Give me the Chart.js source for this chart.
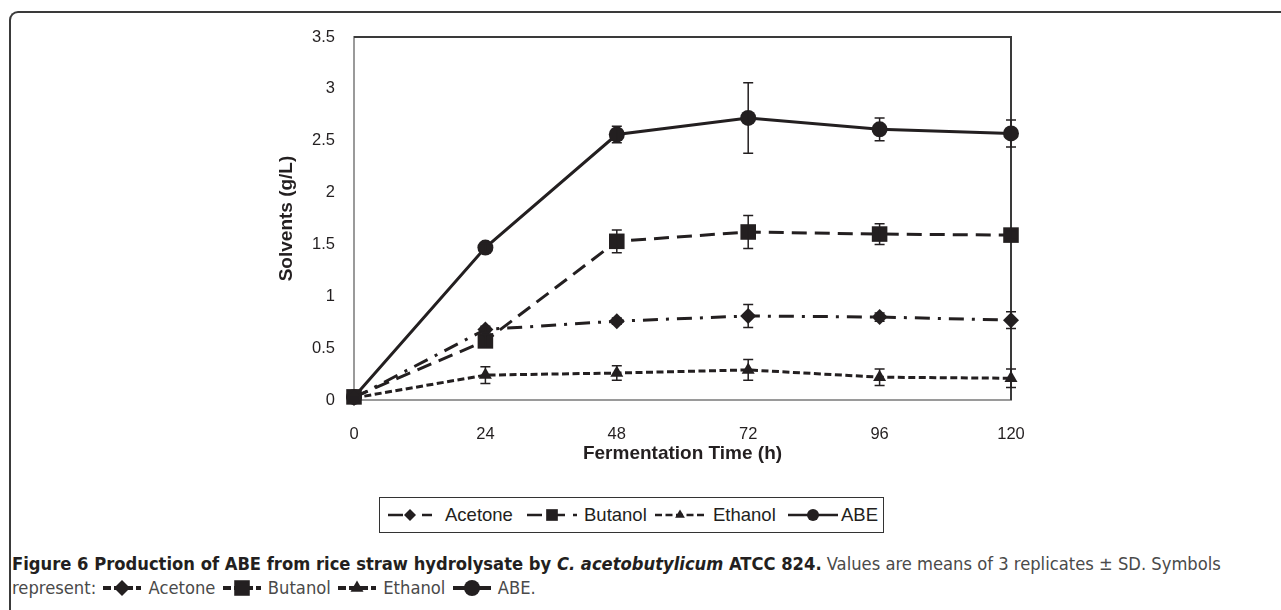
<!DOCTYPE html>
<html>
<head>
<meta charset="utf-8">
<title>Figure 6 - ABE production</title>
<script src="https://cdn.jsdelivr.net/npm/chart.js@4.4.1/dist/chart.umd.min.js"></script>
<style>
  html, body { margin: 0; padding: 0; background: #fff; }
  body { width: 1281px; height: 610px; position: relative; overflow: hidden; font-family: "Liberation Sans", Arial, sans-serif; color: #231f20; }
  #frame { position: absolute; left: 9px; top: 11px; width: 1320px; height: 700px; border-left: 2px solid #3a3a3a; border-top: 2px solid #3a3a3a; border-top-left-radius: 9px; }
  #chart-wrap { position: absolute; left: 0; top: 0; width: 1281px; height: 480px; }
  #legend { position: absolute; left: 379px; top: 497px; width: 505px; height: 36px; box-sizing: border-box; border: 1.5px solid #333; font-size: 18.5px; }
  .entry { position: absolute; top: 0; height: 33px; display: flex; align-items: center; white-space: nowrap; }
  #caption { position: absolute; left: 12px; top: 552px; font-family: "DejaVu Sans Condensed", "DejaVu Sans", sans-serif; font-stretch: condensed; font-size: 18px; line-height: 24px; color: #4a4a4a; white-space: nowrap; }
  #caption > div { display: inline-block; }
  #caption b { color: #231f20; }
  #caption canvas { vertical-align: -3px; margin: 0 2px; }
</style>
</head>
<body>
<div id="frame"></div>
<div id="chart-wrap"><canvas id="abe-chart"></canvas></div>
<div id="legend"></div>
<div id="caption">
  <div id="caption-title"><b>Figure 6 Production of ABE from rice straw hydrolysate by <i>C. acetobutylicum</i> ATCC 824.</b> Values are means of 3 replicates ± SD. Symbols</div><br>
  <div id="caption-symbols">represent:</div>
</div>
<script>
const timePoints = [0, 24, 48, 72, 96, 120];
const yTickValues = [0, 0.5, 1, 1.5, 2, 2.5, 3, 3.5];
const yTickLabels = ["0", "0.5", "1", "1.5", "2", "2.5", "3", "3.5"];

const acetone = [0.02, 0.68, 0.76, 0.81, 0.80, 0.77];
const acetoneSD = [0.01, 0.03, 0.03, 0.11, 0.04, 0.08];
const butanol = [0.03, 0.57, 1.53, 1.62, 1.60, 1.59];
const butanolSD = [0.01, 0.06, 0.11, 0.16, 0.10, 0.04];
const ethanol = [0.02, 0.24, 0.26, 0.29, 0.22, 0.21];
const ethanolSD = [0.01, 0.08, 0.07, 0.10, 0.08, 0.09];
const abe = [0.03, 1.47, 2.56, 2.72, 2.61, 2.57];
const abeSD = [0.01, 0.04, 0.08, 0.34, 0.11, 0.13];

const ink = "#231f20";
const chartCanvas = document.getElementById("abe-chart");
const legendBox = document.getElementById("legend");
const captionTitle = document.getElementById("caption-title");
const captionSymbols = document.getElementById("caption-symbols");

function toPoints(values) {
  return values.map((y, i) => ({ x: timePoints[i], y }));
}

const seriesStyles = [
  { label: "Acetone", values: acetone, sd: acetoneSD, dash: [15, 8, 3, 8], pointStyle: "rectRot", radius: 8 },
  { label: "Butanol", values: butanol, sd: butanolSD, dash: [15, 8], pointStyle: "rect", radius: 11 },
  { label: "Ethanol", values: ethanol, sd: ethanolSD, dash: [7, 3.5], pointStyle: "triangle", radius: 7.5 },
  { label: "ABE", values: abe, sd: abeSD, dash: [], pointStyle: "circle", radius: 8 },
];

function drawMarker(ctx, style, x, y, r) {
  ctx.beginPath();
  if (style === "circle") {
    ctx.arc(x, y, r, 0, Math.PI * 2);
  } else if (style === "rect") {
    const s = r * Math.SQRT1_2;
    ctx.rect(x - s, y - s, s * 2, s * 2);
  } else if (style === "rectRot") {
    ctx.moveTo(x - r, y);
    ctx.lineTo(x, y - r);
    ctx.lineTo(x + r, y);
    ctx.lineTo(x, y + r);
    ctx.closePath();
  } else if (style === "triangle") {
    ctx.moveTo(x, y - r);
    ctx.lineTo(x + r * 0.866, y + r * 0.5);
    ctx.lineTo(x - r * 0.866, y + r * 0.5);
    ctx.closePath();
  }
  ctx.fill();
}

function drawSample(canvas, series, opts) {
  const ctx = canvas.getContext("2d");
  const w = canvas.width;
  const h = canvas.height;
  ctx.strokeStyle = ink;
  ctx.fillStyle = ink;
  ctx.lineWidth = opts.lineWidth;
  ctx.setLineDash(!series.dash.length ? [] : opts.dash || series.dash);
  ctx.beginPath();
  ctx.moveTo(0, h / 2);
  ctx.lineTo(w, h / 2);
  ctx.stroke();
  ctx.setLineDash([]);
  drawMarker(ctx, series.pointStyle, w / 2, h / 2, opts.radius * series.radius / 8);
}

const errorBarPlugin = {
  id: "errorBars",
  afterDatasetsDraw(chart) {
    const { ctx, scales } = chart;
    ctx.save();
    ctx.strokeStyle = ink;
    ctx.lineWidth = 1.5;
    seriesStyles.forEach((series) => {
      series.values.forEach((value, i) => {
        const x = scales.x.getPixelForValue(timePoints[i]);
        const top = scales.y.getPixelForValue(value + series.sd[i]);
        const bottom = scales.y.getPixelForValue(value - series.sd[i]);
        ctx.beginPath();
        ctx.moveTo(x, top);
        ctx.lineTo(x, bottom);
        ctx.moveTo(x - 5, top);
        ctx.lineTo(x + 5, top);
        ctx.moveTo(x - 5, bottom);
        ctx.lineTo(x + 5, bottom);
        ctx.stroke();
      });
    });
    ctx.restore();
  },
};

const plotFramePlugin = {
  id: "plotFrame",
  beforeDatasetsDraw(chart) {
    const { ctx, chartArea } = chart;
    ctx.save();
    ctx.strokeStyle = "#3a3a3a";
    ctx.lineWidth = 2;
    ctx.beginPath();
    ctx.moveTo(chartArea.left, chartArea.top);
    ctx.lineTo(chartArea.right, chartArea.top);
    ctx.lineTo(chartArea.right, chartArea.bottom);
    ctx.stroke();
    ctx.restore();
  },
};

const abeChart = new Chart(chartCanvas, {
  type: "line",
  data: {
    datasets: seriesStyles.map((series) => ({
      label: series.label,
      data: toPoints(series.values),
      borderColor: ink,
      backgroundColor: ink,
      borderWidth: 3,
      borderDash: series.dash,
      pointStyle: series.pointStyle,
      pointRadius: series.radius,
      pointHoverRadius: series.radius,
      pointBorderWidth: 0,
      pointBackgroundColor: ink,
      tension: 0,
      clip: false,
    })),
  },
  options: {
    responsive: true,
    maintainAspectRatio: false,
    animation: false,
    layout: { padding: { left: 254, right: 270, top: 37, bottom: 20 } },
    plugins: {
      legend: { display: false },
      tooltip: { enabled: false },
    },
    scales: {
      x: {
        type: "linear",
        min: 0,
        max: 120,
        afterBuildTicks: (scale) => {
          scale.ticks = timePoints.map((value) => ({ value }));
        },
        afterFit: (scale) => {
          scale.height = 60;
        },
        grid: { display: false, drawTicks: false },
        border: { display: true, color: "#9a9a9a", width: 2 },
        ticks: { color: ink, padding: 25, font: { family: "Liberation Sans", size: 16.5 } },
        title: {
          display: true,
          text: "Fermentation Time (h)",
          color: ink,
          padding: { top: 0, bottom: -5 },
          font: { family: "Liberation Sans", size: 19, weight: "bold" },
        },
      },
      y: {
        min: 0,
        max: 3.5,
        afterBuildTicks: (scale) => {
          scale.ticks = yTickValues.map((value) => ({ value }));
        },
        afterFit: (scale) => {
          scale.width = 100;
        },
        grid: { display: false, drawTicks: false },
        border: { display: true, color: "#9a9a9a", width: 2 },
        ticks: {
          color: ink,
          padding: 19,
          font: { family: "Liberation Sans", size: 16.5 },
          callback: (value, index) => yTickLabels[index],
        },
        title: {
          display: true,
          text: "Solvents (g/L)",
          color: ink,
          padding: { top: 21, bottom: 0 },
          font: { family: "Liberation Sans", size: 19, weight: "bold" },
        },
      },
    },
  },
  plugins: [plotFramePlugin, errorBarPlugin],
});

// legend box below the plot
const legendLayout = [
  { left: 8, width: 44, gap: 13 },
  { left: 147, width: 50, gap: 7 },
  { left: 275, width: 50, gap: 8 },
  { left: 408, width: 50, gap: 3 },
];
seriesStyles.forEach((series, i) => {
  const entry = document.createElement("div");
  entry.className = "entry";
  entry.style.left = legendLayout[i].left + "px";
  const sample = document.createElement("canvas");
  sample.width = legendLayout[i].width;
  sample.height = 16;
  sample.style.marginRight = legendLayout[i].gap + "px";
  drawSample(sample, series, { lineWidth: 2.5, radius: 6 });
  entry.appendChild(sample);
  entry.appendChild(document.createTextNode(series.label));
  legendBox.appendChild(entry);
});

// symbols in the caption
seriesStyles.forEach((series, i) => {
  const sample = document.createElement("canvas");
  sample.width = 38;
  sample.height = 18;
  drawSample(sample, series, { lineWidth: 4, radius: 8, dash: [8, 3] });
  captionSymbols.appendChild(document.createTextNode(" "));
  captionSymbols.appendChild(sample);
  captionSymbols.appendChild(document.createTextNode(" " + series.label + (i === seriesStyles.length - 1 ? "." : "")));
});

// stretch the caption font so its first line spans the same width as the figure caption
const captionEl = document.getElementById("caption");
const baseWidth = captionTitle.getBoundingClientRect().width;
captionEl.style.fontSize = (18 * 1210 / baseWidth).toFixed(2) + "px";
</script>
</body>
</html>
